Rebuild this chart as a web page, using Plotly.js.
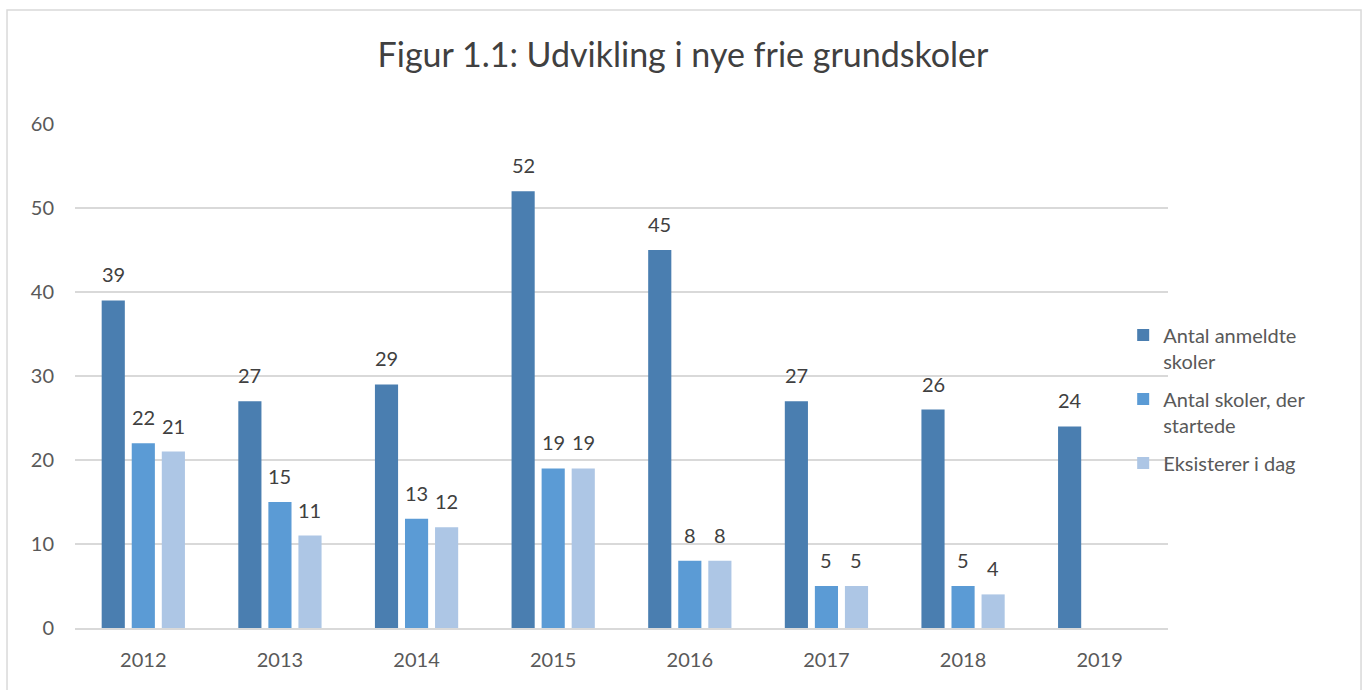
<!DOCTYPE html>
<html>
<head>
<meta charset="utf-8">
<script src="https://cdn.plot.ly/plotly-3.0.1.min.js"></script>
<style>html,body{margin:0;padding:0;background:#fff;}#chart{width:1366px;height:690px;}</style>
</head>
<body>
<div id="chart"></div>
<script>
var years = ["2012","2013","2014","2015","2016","2017","2018","2019"];
var anmeldte = [39, 27, 29, 52, 45, 27, 26, 24];
var startede = [22, 15, 13, 19, 8, 5, 5, null];
var eksisterer = [21, 11, 12, 19, 8, 5, 4, null];
var seriesNames = ["Antal anmeldte<br>skoler", "Antal skoler, der<br>startede", "Eksisterer i dag"];
var colors = ["#4a7eb0", "#5b9bd5", "#adc6e5"];

var FONT = "Lato, 'Open Sans', sans-serif";
var series = [anmeldte, startede, eksisterer];
var data = series.map(function(vals, i) {
  return {
    type: "bar", x: years, y: vals, name: seriesNames[i],
    legendgroup: "g" + i,
    marker: {color: colors[i]},
    hoverinfo: "x+y"
  };
});
// data labels placed over each bar (offset within group: -1, 0, +1 slot)
var slotPx = 30;
var annotations = [];
series.forEach(function(vals, i) {
  vals.forEach(function(v, j) {
    if (v === null) return;
    annotations.push({
      x: j, y: v, xref: "x", yref: "y", text: String(v), showarrow: false,
      xshift: (i - 1) * slotPx, yshift: 12, yanchor: "bottom", xanchor: "center",
      font: {size: 20, color: "#404040", family: FONT}
    });
  });
});
var layout = {
  width: 1366, height: 690,
  margin: {l: 75, r: 198, t: 124, b: 62},
  paper_bgcolor: "#fff", plot_bgcolor: "#fff",
  font: {family: FONT, color: "#595959"},
  title: {text: "Figur 1.1: Udvikling i nye frie grundskoler", font: {size: 34, color: "#404040", family: FONT}, x: 0.5, xanchor: "center", y: 0.92, yanchor: "middle"},
  barmode: "group", bargap: 0.34, bargroupgap: 0.23,
  xaxis: {type: "category", range: [-0.5, years.length - 0.5], showline: true, linecolor: "#d9d9d9", linewidth: 1.5, ticks: "", tickfont: {size: 20, color: "#595959"}, ticklabelstandoff: 13, showgrid: false, zeroline: false},
  yaxis: {range: [0, 60], dtick: 10, showgrid: true, gridcolor: "#d9d9d9", gridwidth: 1.3, zeroline: false, showline: false, ticks: "", tickfont: {size: 20, color: "#595959"}, ticklabelstandoff: 20},
  legend: {x: 0.959, xanchor: "left", y: 0.62, yanchor: "top", valign: "top", font: {size: 20, color: "#595959"}, itemwidth: 30, tracegroupgap: 9, bgcolor: "rgba(0,0,0,0)"},
  annotations: annotations,
  shapes: [{type: "rect", xref: "paper", yref: "paper", x0: -0.0622, x1: 1.1766, y0: -0.2, y1: 1.2262, line: {color: "#d9d9d9", width: 1.5}, fillcolor: "rgba(0,0,0,0)", layer: "below"}],
  showlegend: true
};
Plotly.newPlot("chart", data, layout, {displayModeBar: false, staticPlot: true});
</script>
</body>
</html>
